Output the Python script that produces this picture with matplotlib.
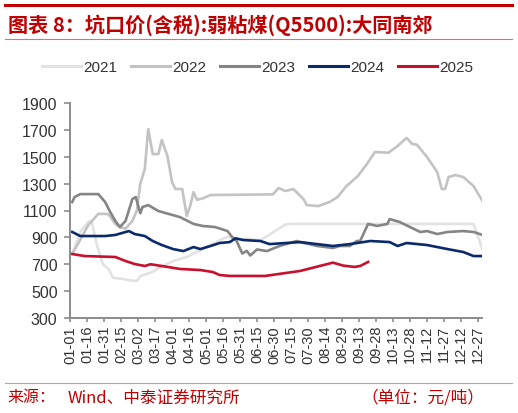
import matplotlib
matplotlib.use('Agg')
from matplotlib import pyplot as plt
from matplotlib.lines import Line2D

plt.rcParams['font.family'] = ['Liberation Sans', 'Noto Sans CJK SC', 'DejaVu Sans']

# day of year (0 = 01-01) and price
days_2021 = [2, 9, 16, 19, 24, 29, 34, 38, 47, 53, 59, 62, 72, 77, 91, 103, 117, 131, 139, 150, 159, 168, 190, 194, 356, 364]
vals_2021 = [776, 940, 1014, 1022, 836, 700, 665, 600, 590, 580, 575, 612, 640, 665, 724, 754, 813, 873, 905, 885, 890, 878, 995, 1000, 1000, 810]

days_2022 = [2, 6, 16, 25, 33, 35, 40, 44, 49, 55, 59, 62, 66, 69, 73, 78, 81, 86, 90, 93, 99, 103, 106, 109, 112, 117, 124,
             179, 184, 190, 197, 206, 209, 219, 229, 236, 244, 254, 262, 269, 281, 289, 297, 302, 306, 315, 324, 328, 331,
             334, 340, 347, 356, 364]
vals_2022 = [780, 836, 990, 1075, 1074, 1060, 1000, 977, 965, 1022, 1100, 1300, 1409, 1706, 1520, 1520, 1625, 1505, 1312,
             1260, 1260, 1060, 1133, 1237, 1180, 1190, 1215, 1220, 1267, 1245, 1260, 1185, 1140, 1133, 1163, 1200, 1282,
             1357, 1446, 1535, 1530, 1580, 1640, 1595, 1590, 1498, 1386, 1260, 1260, 1349, 1364, 1349, 1282, 1170]

days_2023 = [2, 4, 9, 25, 31, 35, 40, 44, 49, 55, 58, 62, 64, 69, 78, 97, 109, 117, 128, 139, 143, 147, 152, 156, 159, 165,
             174, 178, 185, 200, 203, 218, 232, 238, 247, 253, 256, 263, 271, 280, 282, 291, 300, 309, 315, 324, 333, 347,
             356, 364]
vals_2023 = [1163, 1200, 1222, 1222, 1163, 1096, 1022, 977, 1022, 1185, 1200, 1080, 1126, 1140, 1096, 1051, 1000, 985, 977,
             947, 903, 873, 780, 800, 765, 810, 798, 813, 836, 873, 865, 836, 821, 836, 836, 873, 873, 1000, 985, 1000,
             1036, 1014, 977, 940, 947, 925, 940, 947, 940, 918]

days_2024 = [2, 9, 22, 31, 40, 49, 52, 57, 66, 73, 81, 91, 100, 109, 115, 124, 132, 141, 146, 153, 168, 176, 203, 232, 247,
             265, 282, 289, 297, 315, 333, 347, 356, 364]
vals_2024 = [940, 910, 910, 910, 918, 940, 947, 925, 910, 873, 843, 813, 798, 828, 813, 836, 858, 865, 893, 880, 873, 850,
             865, 836, 850, 873, 865, 836, 858, 843, 813, 791, 761, 761]

days_2025 = [2, 13, 40, 49, 57, 66, 71, 81, 97, 115, 126, 132, 141, 172, 203, 232, 241, 251, 256, 263]
vals_2025 = [776, 761, 754, 724, 702, 687, 700, 687, 665, 657, 642, 620, 613, 613, 650, 712, 690, 680, 687, 717]

years = ['2021', '2022', '2023', '2024', '2025']
colors = ['#e2e2e2', '#c3c3c3', '#858585', '#0b2a6b', '#c8102e']

tick_days = list(range(0, 361, 15))
tick_labels = ['01-01', '01-16', '01-31', '02-15', '03-02', '03-17', '04-01', '04-16', '05-01', '05-16', '05-31',
               '06-15', '06-30', '07-15', '07-30', '08-14', '08-29', '09-13', '09-28', '10-13', '10-28', '11-12',
               '11-27', '12-12', '12-27']
y_ticks = list(range(300, 1901, 200))

red = '#c00000'
cjk = ['Noto Sans CJK SC', 'DejaVu Sans']

fig = plt.figure(figsize=(5.18, 4.14), dpi=100)
ax = fig.add_axes([70 / 518, 1 - 319 / 414, 412 / 518, 215 / 414])

series = [(days_2021, vals_2021), (days_2022, vals_2022), (days_2023, vals_2023),
          (days_2024, vals_2024), (days_2025, vals_2025)]
for (d, v), c in zip(series, colors):
    ax.plot(d, v, color=c, linewidth=1.9, solid_joinstyle='round')

ax.set_xlim(0, 363.5)
ax.set_ylim(300, 1900)
ax.set_xticks(tick_days)
ax.set_xticklabels(tick_labels, rotation=90, fontsize=10.5, color='#333333')
ax.set_yticks(y_ticks)
ax.set_yticklabels([str(y) for y in y_ticks], fontsize=11.5, color='#333333')
for side in ('top', 'right'):
    ax.spines[side].set_visible(False)
for side in ('left', 'bottom'):
    ax.spines[side].set_color('#8c8c8c')
    ax.spines[side].set_linewidth(1.4)
ax.tick_params(axis='both', colors='#8c8c8c', labelcolor='#333333', width=1.2)
ax.tick_params(axis='x', length=3, pad=2)
ax.tick_params(axis='y', length=4, pad=5)

handles = [Line2D([], [], color=c, linewidth=2.2) for c in colors]
fig.legend(handles, years, loc='center', bbox_to_anchor=(258 / 518, 1 - 68 / 414), ncol=5, frameon=False,
           fontsize=11, handlelength=2.5, handletextpad=0.2, columnspacing=0.9, labelcolor='#333333')

# header and footer decoration
fig.add_artist(Line2D([5 / 518, 512 / 518], [1 - 6 / 414] * 2, color=red, linewidth=2.2))
fig.add_artist(Line2D([5 / 518, 512 / 518], [1 - 40 / 414] * 2, color='#e07070', linewidth=0.8))
fig.add_artist(Line2D([5 / 518, 512 / 518], [1 - 384 / 414] * 2, color='#e89090', linewidth=0.8))

fig.text(8 / 518, 1 - 25 / 414, '图表 8：坑口价(含税):弱粘煤(Q5500):大同南郊', color=red, fontsize=14.5,
         fontweight='bold', fontstyle='italic', va='center', ha='left', family=cjk)
fig.text(7 / 518, 1 - 398 / 414, '来源：', color=red, fontsize=11.5, va='center', ha='left', family=cjk)
fig.text(68 / 518, 1 - 398 / 414, 'Wind、中泰证券研究所', color=red, fontsize=12, va='center', ha='left', family=cjk)
fig.text(484 / 518, 1 - 398 / 414, '（单位：元/吨）', color=red, fontsize=12, va='center', ha='right', family=cjk)

fig.savefig('out.png', dpi=100)
